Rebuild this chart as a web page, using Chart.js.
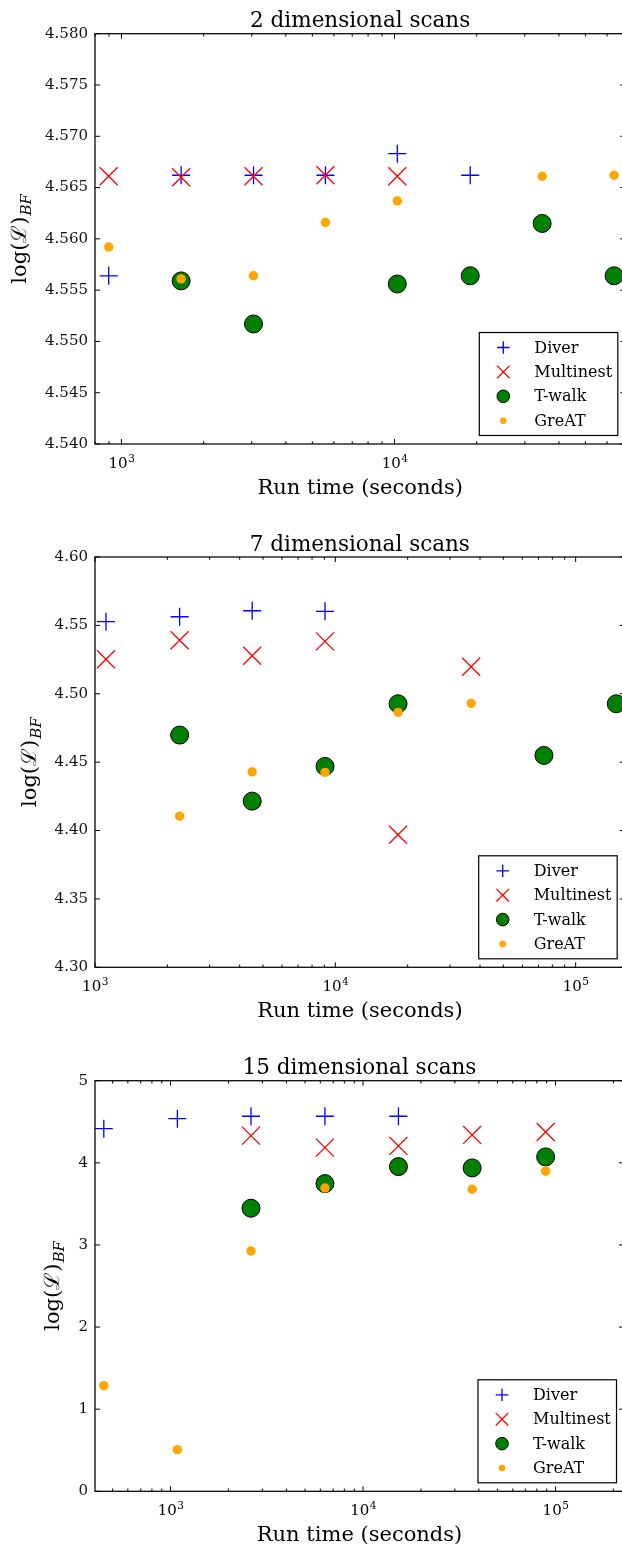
<!DOCTYPE html>
<html>
<head>
<meta charset="utf-8">
<title>Scan comparison</title>
<script src="https://cdn.jsdelivr.net/npm/chart.js@4.4.1/dist/chart.umd.min.js"></script>
<style>
  html, body { margin: 0; padding: 0; background: #fff; }
  body { width: 622px; height: 1546px; overflow: hidden; position: relative; }
  canvas { position: absolute; left: 0; }
</style>
</head>
<body>
<canvas id="scan2" width="640" height="520" style="top:0;width:640px;height:520px"></canvas>
<canvas id="scan7" width="640" height="520" style="top:520px;width:640px;height:520px"></canvas>
<canvas id="scan15" width="640" height="506" style="top:1040px;width:640px;height:506px"></canvas>
<script>
// run times (seconds) and log-likelihood values, null = no run at that time
const seriesNames = ['Diver', 'Multinest', 'T-walk', 'GreAT'];

const times2 = [898, 1654, 3045, 5583, 10236, 18934, 34720, 63680];
const diver2 = [4.5564, 4.5662, 4.5662, 4.5662, 4.5683, 4.5662, null, null];
const multinest2 = [4.5661, 4.5660, 4.5661, 4.5662, 4.5661, null, null, null];
const twalk2 = [null, 4.5559, 4.5517, null, 4.5556, 4.5564, 4.5615, 4.5564];
const great2 = [4.5592, 4.5561, 4.5564, 4.5616, 4.5637, null, 4.5661, 4.5662];

const times7 = [1111, 2250, 4510, 9060, 18240, 36750, 73800, 147600];
const diver7 = [4.5527, 4.5563, 4.5607, 4.5603, null, null, null, null];
const multinest7 = [4.5252, 4.5391, 4.5278, 4.5383, 4.3969, 4.5198, null, null];
const twalk7 = [null, 4.4698, 4.4215, 4.4469, 4.4927, null, 4.4549, 4.4927];
const great7 = [null, 4.4105, 4.4429, 4.4425, 4.4864, 4.4930, null, null];

const times15 = [450, 1085, 2618, 6340, 15280, 36900, 88900];
const diver15 = [4.416, 4.538, 4.567, 4.567, 4.567, null, null];
const multinest15 = [null, null, 4.331, 4.185, 4.206, 4.340, 4.376];
const twalk15 = [null, null, 3.447, 3.747, 3.954, 3.938, 4.072];
const great15 = [1.286, 0.507, 2.927, 3.694, null, 3.678, 3.898];

const SERIF = '"DejaVu Serif", "Liberation Serif", serif';

const markerStyles = [
    { pointStyle: 'cross', pointRadius: 9, borderColor: '#0000ff', backgroundColor: 'rgba(0,0,0,0)', pointBorderWidth: 1.3 },
    { pointStyle: 'crossRot', pointRadius: 12.7, borderColor: '#ff0000', backgroundColor: 'rgba(0,0,0,0)', pointBorderWidth: 1.3 },
    { pointStyle: 'circle', pointRadius: 9, borderColor: '#000000', backgroundColor: '#008000', pointBorderWidth: 1 },
    { pointStyle: 'circle', pointRadius: 4.7, borderColor: '#ffa500', backgroundColor: '#ffa500', pointBorderWidth: 0 }
];

function toPoints(times, values) {
    const pts = [];
    times.forEach((t, i) => {
        if (values[i] !== null) pts.push({ x: t, y: values[i] });
    });
    return pts;
}

function line(ctx, x1, y1, x2, y2) {
    ctx.beginPath();
    ctx.moveTo(x1, y1);
    ctx.lineTo(x2, y2);
    ctx.stroke();
}

// frame, inward ticks, decade labels, titles and the legend box
const decorations = {
    id: 'decorations',
    afterDraw(chart, args, opts) {
        const ctx = chart.ctx;
        const a = chart.chartArea;
        const xs = chart.scales.x;
        const ys = chart.scales.y;
        ctx.save();
        ctx.strokeStyle = '#000';
        ctx.lineWidth = 1;

        // log minor/major ticks on bottom and top
        const e0 = Math.floor(Math.log10(xs.min));
        const e1 = Math.ceil(Math.log10(xs.max));
        const decades = [];
        for (let e = e0; e <= e1; e++) {
            for (let m = 1; m <= 9; m++) {
                const v = m * Math.pow(10, e);
                if (v < xs.min || v > xs.max) continue;
                const px = xs.getPixelForValue(v);
                const len = m === 1 ? 5 : 2.8;
                line(ctx, px, a.bottom, px, a.bottom - len);
                line(ctx, px, a.top, px, a.top + len);
                if (m === 1) decades.push({ px, e });
            }
        }
        ys.ticks.forEach(t => {
            const py = ys.getPixelForValue(t.value);
            line(ctx, a.left, py, a.left + 5, py);
            line(ctx, a.right, py, a.right - 5, py);
        });

        ctx.lineWidth = 1.25;
        ctx.strokeRect(a.left, a.top, a.right - a.left, a.bottom - a.top);

        // decade labels 10^n
        ctx.fillStyle = '#000';
        ctx.textBaseline = 'alphabetic';
        ctx.textAlign = 'left';
        decades.forEach(d => {
            ctx.font = '15px ' + SERIF;
            const wBase = ctx.measureText('10').width;
            ctx.font = '10.5px ' + SERIF;
            const wExp = ctx.measureText(String(d.e)).width;
            const x0 = d.px - (wBase + wExp) / 2;
            const yb = a.bottom + 24;
            ctx.font = '15px ' + SERIF;
            ctx.fillText('10', x0, yb);
            ctx.font = '10.5px ' + SERIF;
            ctx.fillText(String(d.e), x0 + wBase + 0.5, yb - 6);
        });

        const cx = (a.left + a.right) / 2;
        ctx.textAlign = 'center';
        ctx.font = '21.5px ' + SERIF;
        ctx.fillText(opts.title, cx, a.top - 6.5);
        ctx.font = '21px ' + SERIF;
        ctx.fillText('Run time (seconds)', cx, a.bottom + 50);

        // y axis label, placed left of the widest tick label
        ctx.font = ys.options.ticks.font.size + 'px ' + SERIF;
        let widest = 0;
        ys.ticks.forEach(t => { widest = Math.max(widest, ctx.measureText(t.label).width); });
        const xBase = a.left - ys.options.ticks.padding - widest - 19;
        ctx.translate(xBase, (a.top + a.bottom) / 2);
        ctx.rotate(-Math.PI / 2);
        ctx.textAlign = 'left';
        const mainFont = '21px ' + SERIF;
        const subFont = 'italic 15px ' + SERIF;
        ctx.font = mainFont;
        const w1 = ctx.measureText('log(ℒ)').width;
        ctx.font = subFont;
        const w2 = ctx.measureText('BF').width;
        const start = -(w1 + w2 + 1) / 2;
        ctx.font = mainFont;
        ctx.fillText('log(ℒ)', start, 0);
        ctx.font = subFont;
        ctx.fillText('BF', start + w1 + 1, 5);
        ctx.setTransform(1, 0, 0, 1, 0, 0);

        // legend, lower right
        const boxW = 138.5, boxH = 103;
        const bx = a.right - 7.5 - boxW;
        const by = a.bottom - 8.5 - boxH;
        ctx.fillStyle = '#fff';
        ctx.fillRect(bx, by, boxW, boxH);
        ctx.strokeStyle = '#000';
        ctx.lineWidth = 1.2;
        ctx.strokeRect(bx, by, boxW, boxH);
        chart.data.datasets.forEach((ds, i) => {
            const ry = by + 15 + i * 24.4;
            ctx.fillStyle = ds.backgroundColor;
            ctx.strokeStyle = ds.borderColor;
            ctx.lineWidth = ds.pointBorderWidth;
            Chart.helpers.drawPoint(ctx, {
                pointStyle: ds.pointStyle,
                radius: ds.pointRadius * 0.7,
                borderWidth: ds.pointBorderWidth,
                rotation: 0
            }, bx + 24, ry);
            ctx.fillStyle = '#000';
            ctx.font = '16px ' + SERIF;
            ctx.textAlign = 'left';
            ctx.textBaseline = 'middle';
            ctx.fillText(ds.label, bx + 55, ry + 1);
        });
        ctx.restore();
    }
};

function makeScan(id, cfg) {
    const canvas = document.getElementById(id);
    const datasets = cfg.series.map((vals, i) => Object.assign({
        label: seriesNames[i],
        data: toPoints(cfg.times, vals),
        order: 4 - i,
        clip: false
    }, markerStyles[i]));

    return new Chart(canvas, {
        type: 'scatter',
        data: { datasets },
        options: {
            responsive: false,
            animation: false,
            devicePixelRatio: 1,
            events: [],
            layout: { padding: { top: cfg.top, right: canvas.width - cfg.right, left: 0, bottom: 0 } },
            plugins: {
                legend: { display: false },
                tooltip: { enabled: false },
                decorations: { title: cfg.title }
            },
            scales: {
                x: {
                    type: 'logarithmic',
                    min: cfg.xMin,
                    max: cfg.xMax,
                    grid: { display: false, drawTicks: false },
                    border: { display: false },
                    ticks: { display: false },
                    afterFit: s => { s.height = canvas.height - cfg.bottom; }
                },
                y: {
                    min: cfg.yMin,
                    max: cfg.yMax,
                    grid: { display: false, drawTicks: false },
                    border: { display: false },
                    ticks: {
                        stepSize: cfg.yStep,
                        padding: 7,
                        color: '#111',
                        font: { family: SERIF, size: 15 },
                        callback: v => Number(v).toFixed(cfg.decimals)
                    },
                    afterFit: s => { s.width = 95; }
                }
            }
        },
        plugins: [decorations]
    });
}

makeScan('scan2', {
    title: '2 dimensional scans',
    times: times2,
    series: [diver2, multinest2, twalk2, great2],
    xMin: 800, xMax: 70000,
    yMin: 4.540, yMax: 4.580, yStep: 0.005, decimals: 3,
    top: 33.7, bottom: 444, right: 625.3
});

makeScan('scan7', {
    title: '7 dimensional scans',
    times: times7,
    series: [diver7, multinest7, twalk7, great7],
    xMin: 1000, xMax: 160000,
    yMin: 4.30, yMax: 4.60, yStep: 0.05, decimals: 2,
    top: 37, bottom: 447.3, right: 624.7
});

makeScan('scan15', {
    title: '15 dimensional scans',
    times: times15,
    series: [diver15, multinest15, twalk15, great15],
    xMin: 405, xMax: 227000,
    yMin: 0, yMax: 5, yStep: 1, decimals: 0,
    top: 40.7, bottom: 451.3, right: 624
});
</script>
</body>
</html>
